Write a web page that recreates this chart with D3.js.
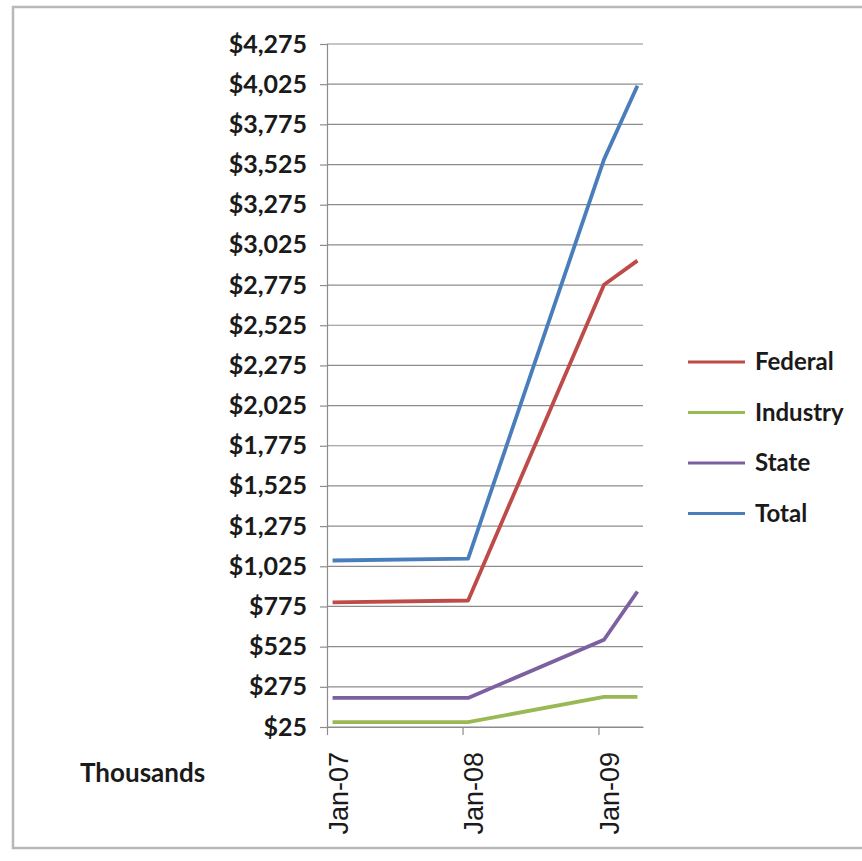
<!DOCTYPE html>
<html>
<head>
<meta charset="utf-8">
<script src="https://cdn.jsdelivr.net/npm/d3@7"></script>
<style>
  html, body { margin: 0; padding: 0; background: #fff; }
  svg { display: block; font-family: Lato, "Open Sans", sans-serif; }
</style>
</head>
<body>
<svg id="chart" width="862" height="861"></svg>
<script>
// months of the observations (the last point is April 2009)
const months = ['2007-01', '2008-01', '2009-01', '2009-04'];
const seriesNames = ['Federal', 'Industry', 'State', 'Total'];
const federal = [800, 812, 2777, 2927];
const industry = [55, 55, 212, 212];
const state = [206, 206, 568, 868];
const total = [1061, 1073, 3557, 4015];
const yTicks = d3.range(25, 4276, 250);
const xTickLabels = ['Jan-07', 'Jan-08', 'Jan-09'];

const colors = ['#be4b48', '#98b954', '#7d60a0', '#4a7ebb'];
const values = [federal, industry, state, total];

const parseMonth = d3.timeParse('%Y-%m');
// points sit in the middle of their month slot, like Excel's date axis
const midMonth = m => d3.timeDay.offset(parseMonth(m), 15);

const svg = d3.select('svg#chart');

// chart frame
svg.append('rect')
  .attr('x', 13).attr('y', 7)
  .attr('width', 880).attr('height', 841)
  .attr('fill', '#fff')
  .attr('stroke', '#b8b8b8')
  .attr('stroke-width', 2.5);

const x = d3.scaleTime()
  .domain([parseMonth('2007-01'), parseMonth('2009-05')])
  .range([327, 643]);

const y = d3.scaleLinear()
  .domain([25, 4275])
  .range([727, 44]);

const fmt = v => '$' + d3.format(',')(v);

// gridlines
svg.append('g')
  .selectAll('line').data(yTicks)
  .enter().append('line')
    .attr('x1', x.range()[0]).attr('x2', x.range()[1])
    .attr('y1', d => y(d)).attr('y2', d => y(d))
    .attr('stroke', '#8c8c8c')
    .attr('stroke-width', 1.2);

// y axis
const yAxis = svg.append('g')
  .attr('transform', `translate(${x.range()[0]},0)`)
  .call(d3.axisLeft(y).tickValues(yTicks).tickFormat(fmt).tickSize(7).tickPadding(13));
yAxis.select('.domain').attr('stroke', '#8c8c8c').attr('stroke-width', 1.2);
yAxis.selectAll('.tick line').attr('stroke', '#8c8c8c').attr('stroke-width', 1.2);
yAxis.selectAll('.tick text')
  .attr('fill', '#1a1a1a')
  .style('font-family', 'Lato, sans-serif')
  .style('font-size', '25px')
  .style('font-weight', 'bold');

// x axis
const xTicks = xTickLabels.map(s => d3.timeParse('%b-%y')(s));
const xAxis = svg.append('g')
  .attr('transform', `translate(0,${y.range()[0]})`)
  .call(d3.axisBottom(x).tickValues(xTicks).tickFormat(d3.timeFormat('%b-%y')).tickSize(8).tickSizeOuter(0));
xAxis.select('.domain').attr('stroke', '#8c8c8c').attr('stroke-width', 1.2);
xAxis.selectAll('.tick line').attr('stroke', '#8c8c8c').attr('stroke-width', 1.2);
xAxis.selectAll('.tick text')
  .attr('fill', '#1a1a1a')
  .attr('transform', 'translate(11,25) rotate(-90)')
  .attr('x', 0).attr('y', 0).attr('dy', '0.35em')
  .attr('text-anchor', 'end')
  .style('font-family', '"Liberation Sans", Arial, sans-serif')
  .style('font-size', '27px');

svg.append('text')
  .attr('x', 80).attr('y', 782)
  .attr('fill', '#1a1a1a')
  .style('font-size', '26px')
  .style('font-weight', 'bold')
  .text('Thousands');

// series lines
const line = d3.line()
  .x((d, i) => x(midMonth(months[i])))
  .y(d => y(d));

svg.append('g')
  .selectAll('path').data(values)
  .enter().append('path')
    .attr('d', line)
    .attr('fill', 'none')
    .attr('stroke', (d, i) => colors[i])
    .attr('stroke-width', 3.8)
    .attr('stroke-linejoin', 'round');

// legend
const legend = svg.append('g')
  .selectAll('g').data(seriesNames)
  .enter().append('g')
    .attr('transform', (d, i) => `translate(688,${362 + i * 50.5})`);
legend.append('line')
  .attr('x1', 0).attr('x2', 57)
  .attr('stroke', (d, i) => colors[i])
  .attr('stroke-width', 3);
legend.append('text')
  .attr('x', 67).attr('dy', '0.35em')
  .attr('fill', '#1a1a1a')
  .style('font-size', '24px')
  .style('font-weight', 'bold')
  .text(d => d);
</script>
</body>
</html>
